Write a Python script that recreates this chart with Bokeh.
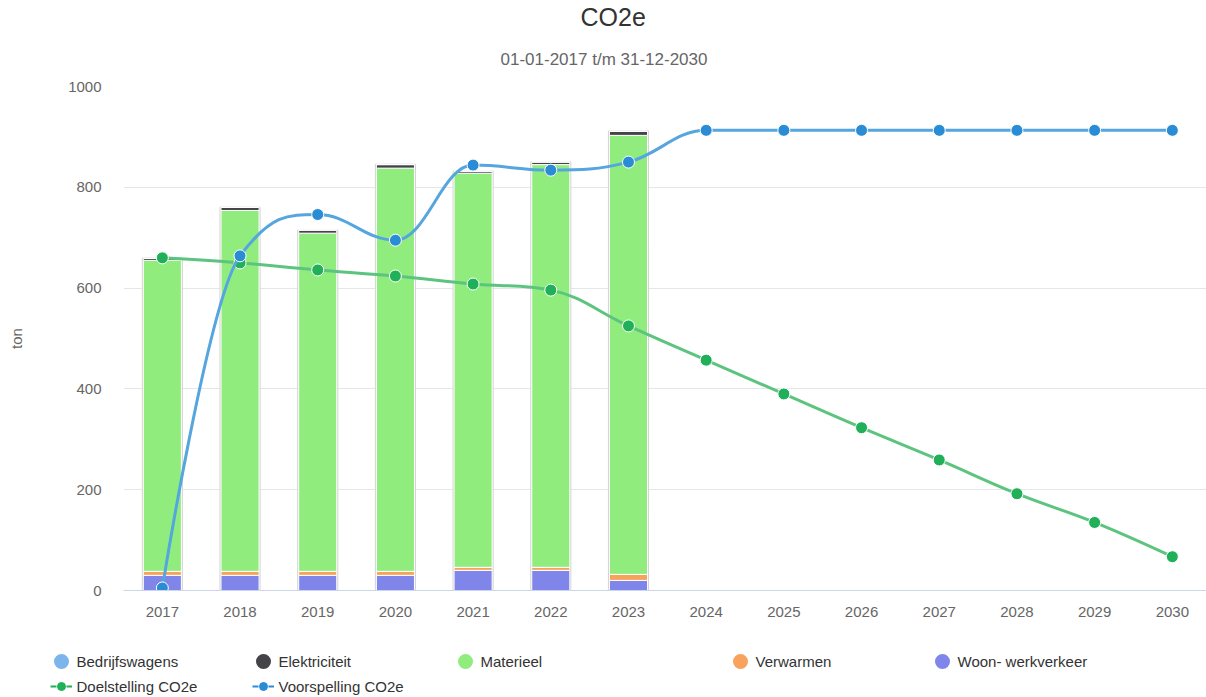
from bokeh.plotting import figure
from bokeh.layouts import column
from bokeh.models import (Title, Legend, LegendItem, FixedTicker, ColumnDataSource, Range1d)
from bokeh.embed import file_html
from bokeh.resources import INLINE

# ---------------- data ----------------
bar_years = [2017, 2018, 2019, 2020, 2021, 2022, 2023]
bedrijfswagens = [0, 0, 0, 0, 0, 0, 0]
elektriciteit = [4, 6, 6, 7, 4, 5, 8]
materieel = [617, 716, 671, 800, 782, 799, 871]
verwarmen = [8, 8, 8, 8, 6, 6, 12]
woon_werk = [30, 30, 30, 30, 40, 40, 20]

line_years = [2017, 2018, 2019, 2020, 2021, 2022, 2023, 2024, 2025, 2026, 2027, 2028, 2029, 2030]
doelstelling = [660, 650, 636, 624, 608, 596, 525, 457, 390, 323, 259, 192, 135, 67]
voorspelling = [5, 664, 746, 695, 844, 834, 850, 913, 913, 913, 913, 913, 913, 913]
year_labels = ["2017", "2018", "2019", "2020", "2021", "2022", "2023",
               "2024", "2025", "2026", "2027", "2028", "2029", "2030"]
y_ticks = [0, 200, 400, 600, 800, 1000]

FONT = "Liberation Sans"
NAN = float("nan")
W = 1206

# --------------- helpers ---------------
def spline_segments(xs, ys, smoothing=1.5):
    """Highcharts-like spline: returns bezier segment control points."""
    n = len(xs)
    denom = smoothing + 1
    left = [None] * n
    right = [None] * n
    for i in range(1, n - 1):
        px, py = xs[i], ys[i]
        lx, ly = xs[i - 1], ys[i - 1]
        nx, ny = xs[i + 1], ys[i + 1]
        lcx = (smoothing * px + lx) / denom
        lcy = (smoothing * py + ly) / denom
        rcx = (smoothing * px + nx) / denom
        rcy = (smoothing * py + ny) / denom
        corr = 0.0
        if rcx != lcx:
            corr = (rcy - lcy) * (rcx - px) / (rcx - lcx) + py - rcy
        lcy += corr
        rcy += corr
        if lcy > ly and lcy > py:
            lcy = max(ly, py); rcy = 2 * py - lcy
        elif lcy < ly and lcy < py:
            lcy = min(ly, py); rcy = 2 * py - lcy
        if rcy > ny and rcy > py:
            rcy = max(ny, py); lcy = 2 * py - rcy
        elif rcy < ny and rcy < py:
            rcy = min(ny, py); lcy = 2 * py - rcy
        left[i] = (lcx, lcy)
        right[i] = (rcx, rcy)
    seg = dict(x0=[], y0=[], x1=[], y1=[], cx0=[], cy0=[], cx1=[], cy1=[])
    for i in range(1, n):
        c0 = right[i - 1] or (xs[i - 1], ys[i - 1])
        c1 = left[i] or (xs[i], ys[i])
        seg["x0"].append(xs[i - 1]); seg["y0"].append(ys[i - 1])
        seg["x1"].append(xs[i]); seg["y1"].append(ys[i])
        seg["cx0"].append(c0[0]); seg["cy0"].append(c0[1])
        seg["cx1"].append(c1[0]); seg["cy1"].append(c1[1])
    return seg

# --------------- main figure ---------------
p = figure(width=W, height=620, output_backend="svg", toolbar_location=None,
           x_range=Range1d(2016.5, 2030.44), y_range=Range1d(0, 1000),
           min_border_left=123, min_border_right=0, min_border_top=85, min_border_bottom=30)
p.frame_align = False
p.outline_line_color = None
p.background_fill_color = "white"

sub = Title(text="01-01-2017 t/m 31-12-2030", align="left", offset=377,
            text_font=FONT, text_font_size="17px", text_font_style="normal",
            text_color="#666666", standoff=35)
main = Title(text="CO2e", align="left", offset=457,
             text_font=FONT, text_font_size="25px", text_font_style="normal",
             text_color="#333333", standoff=0)
p.add_layout(sub, "above")
p.add_layout(main, "above")

# axes
p.xaxis.ticker = FixedTicker(ticks=line_years)
p.xaxis.major_label_overrides = {y: l for y, l in zip(line_years, year_labels)}
p.xaxis.major_tick_line_color = None
p.xaxis.minor_tick_line_color = None
p.xaxis.axis_line_color = "#ccd6eb"
p.xaxis.major_label_text_font = FONT
p.xaxis.major_label_text_font_size = "15px"
p.xaxis.major_label_text_color = "#666666"
p.xaxis.major_label_standoff = 10

p.yaxis.ticker = FixedTicker(ticks=y_ticks)
p.yaxis.major_tick_line_color = None
p.yaxis.minor_tick_line_color = None
p.yaxis.axis_line_color = None
p.yaxis.major_label_text_font = FONT
p.yaxis.major_label_text_font_size = "15px"
p.yaxis.major_label_text_color = "#666666"
p.yaxis.major_label_standoff = 16
p.yaxis.axis_label = "ton"
p.yaxis.axis_label_text_font = FONT
p.yaxis.axis_label_text_font_size = "15px"
p.yaxis.axis_label_text_font_style = "normal"
p.yaxis.axis_label_text_color = "#666666"
p.yaxis.axis_label_standoff = 40

p.xgrid.grid_line_color = None
p.ygrid.grid_line_color = "#e6e6e6"

# bars
names = ["woon", "verw", "mat", "elek", "bedr"]
colors = ["#8085e9", "#f7a35c", "#90ed7d", "#434348", "#7cb5ec"]
src = ColumnDataSource(dict(x=bar_years, woon=woon_werk, verw=verwarmen, mat=materieel,
                            elek=elektriciteit, bedr=bedrijfswagens,
                            total=[a + b + c + d + e for a, b, c, d, e in
                                   zip(woon_werk, verwarmen, materieel, elektriciteit, bedrijfswagens)]))
p.vbar(x="x", top="total", bottom=0, width=0.51, source=src, fill_color=None,
       line_color="#d4d4d4", line_width=1.5)
p.vbar_stack(names, x="x", width=0.49, color=colors, line_color="white", line_width=1, source=src)

# lines
G_LINE, G_MARK = "#5cc47f", "#1fb059"
B_LINE, B_MARK = "#55a5de", "#2b8cd6"
gseg = spline_segments(line_years, doelstelling)
p.bezier(source=ColumnDataSource(gseg), x0="x0", y0="y0", x1="x1", y1="y1",
         cx0="cx0", cy0="cy0", cx1="cx1", cy1="cy1", line_color=G_LINE, line_width=3)
p.scatter(line_years, doelstelling, size=12, fill_color=G_MARK, line_color="white", line_width=1)
bseg = spline_segments(line_years, voorspelling)
p.bezier(source=ColumnDataSource(bseg), x0="x0", y0="y0", x1="x1", y1="y1",
         cx0="cx0", cy0="cy0", cx1="cx1", cy1="cy1", line_color=B_LINE, line_width=3)
p.scatter(line_years, voorspelling, size=12, fill_color=B_MARK, line_color="white", line_width=1)

# --------------- legend figure ---------------
lf = figure(width=W, height=77, output_backend="svg", toolbar_location=None,
            x_range=Range1d(0, 1), y_range=Range1d(0, 1),
            x_axis_type=None, y_axis_type=None,
            min_border_left=0, min_border_right=0, min_border_top=0, min_border_bottom=0)
lf.frame_align = False
lf.grid.visible = False
lf.outline_line_color = None

def dot(c):
    return lf.scatter(x=[NAN], y=[NAN], marker="circle", fill_color=c, line_color=c, line_width=7)

def dashdot(c):
    ln = lf.line(x=[NAN, NAN], y=[NAN, NAN], line_color=c, line_width=2, line_dash="6 10")
    mk = lf.scatter(x=[NAN], y=[NAN], marker="circle", fill_color=c, line_color=c, line_width=1)
    return [ln, mk]

items_a = [LegendItem(label="Bedrijfswagens", renderers=[dot("#7cb5ec")]),
           LegendItem(label="Elektriciteit", renderers=[dot("#434348")]),
           LegendItem(label="Materieel", renderers=[dot("#90ed7d")]),
           LegendItem(label="Doelstelling CO2e", renderers=dashdot(G_MARK)),
           LegendItem(label="Voorspelling CO2e", renderers=dashdot(B_MARK))]
items_b = [LegendItem(label="Verwarmen", renderers=[dot("#f7a35c")]),
           LegendItem(label="Woon- werkverkeer", renderers=[dot("#8085e9")])]

common = dict(orientation="horizontal", glyph_width=22, glyph_height=20, label_standoff=5,
              label_width=170, label_height=18, padding=0, margin=0, spacing=5,
              border_line_alpha=0, background_fill_alpha=0,
              label_text_font=FONT, label_text_font_size="15px", label_text_color="#333333")
lf.add_layout(Legend(items=items_a, location=(49.5, 1), ncols=3, **common))
lf.add_layout(Legend(items=items_b, location=(728.5, 26), ncols=2, **common))

open("out.html", "w").write(file_html(column(p, lf, spacing=0), INLINE))
